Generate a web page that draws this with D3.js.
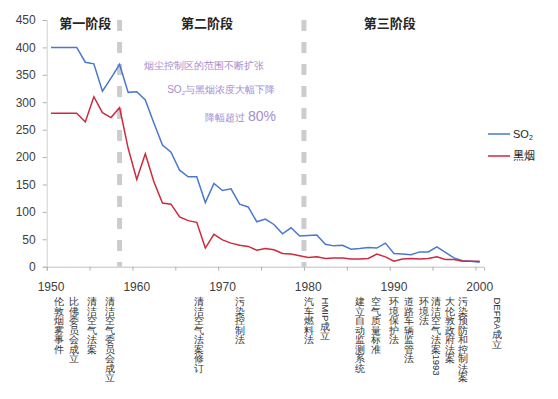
<!DOCTYPE html>
<html lang="zh">
<head>
<meta charset="utf-8">
<script src="https://d3js.org/d3.v7.min.js"></script>
<style>
  body { margin: 0; background: #fff; }
  text { font-family: "Liberation Sans", Arial, sans-serif; }
  .cjk { font-family: "Noto Sans CJK SC", sans-serif; }
</style>
</head>
<body>
<div id="chart"></div>
<script>
// years and the two series (ug/m3)
const years = d3.range(1950, 2001);
const so2 = [400, 400, 400, 400, 373, 370, 320, 344, 369, 318,
             319, 304, 262, 222, 209, 176, 164, 164, 117, 152,
             139, 142, 114, 109, 82, 87, 77, 60, 71, 56,
             57, 58, 41, 38, 39, 32, 33, 35, 34, 43,
             24, 23, 22, 27, 27, 36, 26, 16, 11, 10, 8];
const smoke = [280, 280, 280, 280, 264, 310, 281, 272, 290, 216,
               159, 206, 155, 116, 114, 91, 84, 81, 34, 59,
               49, 43, 39, 37, 30, 33, 31, 24, 23, 20,
               17, 18, 15, 16, 16, 14, 14, 15, 23, 18,
               10, 14, 15, 14, 15, 18, 13, 13, 10, 10, 10];
const yTicks = [0, 50, 100, 150, 200, 250, 300, 350, 400, 450];
const xLabels = [1950, 1960, 1970, 1980, 1990, 2000];

// phases
const phaseNames = ["第一阶段", "第二阶段", "第三阶段"];
const phaseCentres = [1954.0, 1968.2, 1989.5];
const phaseBreaks = [1958, 1979.5];

// events under the axis, anchored at (fractional) year columns
const events = ["伦敦烟雾事件", "比佛委员会成立", "清洁空气法案", "清洁空气委员会成立",
                "清洁空气法案修订", "污染控制法", "汽车燃料法", "HMIP成立",
                "建立自动监测系统", "空气质量标准", "环境保护法", "道路车辆监管法",
                "环境法", "清洁空气法案1993", "大伦敦政府法案", "污染预防和控制法案", "DEFRA成立"];
const eventYears = [1950.9, 1952.7, 1954.8, 1956.9, 1967.3, 1972.0, 1980.1, 1982.0,
                    1986.0, 1987.9, 1990.0, 1991.75, 1993.5, 1994.9, 1996.5, 1998.1, 2002.0];

const W = 558, H = 399;
const svg = d3.select("#chart").append("svg")
  .attr("width", W).attr("height", H);

const x = d3.scaleLinear().domain([1949.5, 2000.5]).range([46.7, 484]);
const y = d3.scaleLinear().domain([0, 450]).range([266.7, 20]);

// y axis
const yAxis = svg.append("g")
  .attr("transform", `translate(${x(1949.5)},0)`)
  .call(d3.axisLeft(y).tickValues(yTicks).tickSize(4).tickPadding(7));
yAxis.select(".domain").attr("stroke", "#d0d0d0");
yAxis.selectAll(".tick line").attr("stroke", "#b0b0b0");
yAxis.selectAll("text").attr("font-size", 12).attr("fill", "#404040")
  .attr("font-family", "Liberation Sans, Arial, sans-serif");

// x axis: ticks on category boundaries every 5 years
const xAxis = svg.append("g")
  .attr("transform", `translate(0,${y(0)})`)
  .call(d3.axisBottom(x).tickValues(d3.range(1949.5, 2001, 5)).tickSize(4).tickFormat(""));
xAxis.select(".domain").attr("stroke", "#c0c0c0");
xAxis.selectAll(".tick line").attr("stroke", "#b0b0b0");

svg.append("g").selectAll("text")
  .data(xLabels)
  .join("text")
  .attr("x", d => x(d))
  .attr("y", 291)
  .attr("text-anchor", "middle")
  .attr("font-size", 12)
  .attr("fill", "#404040")
  .text(d => d);

// phase separators
svg.append("g").selectAll("line")
  .data(phaseBreaks)
  .join("line")
  .attr("x1", d => x(d)).attr("x2", d => x(d))
  .attr("y1", y(450)).attr("y2", y(0))
  .attr("stroke", "#cccccc")
  .attr("stroke-width", 5)
  .attr("stroke-dasharray", "11,11");

// phase titles
svg.append("g").selectAll("text")
  .data(phaseNames)
  .join("text")
  .attr("class", "cjk")
  .attr("x", (d, i) => x(phaseCentres[i]))
  .attr("y", 28)
  .attr("text-anchor", "middle")
  .attr("font-size", 13)
  .attr("font-weight", "bold")
  .attr("fill", "#262626")
  .text(d => d);

// lines
const line = d3.line().x((d, i) => x(years[i])).y(d => y(d));
svg.append("path").datum(so2)
  .attr("d", line).attr("fill", "none")
  .attr("stroke", "#4a78cf").attr("stroke-width", 1.5);
svg.append("path").datum(smoke)
  .attr("d", line).attr("fill", "none")
  .attr("stroke", "#cc2a3e").attr("stroke-width", 1.5);

// purple annotation
const purple = "#a58ccf";
const note = svg.append("g").attr("class", "cjk").attr("fill", purple).attr("text-anchor", "end");
note.append("text").attr("x", 264).attr("y", 69).attr("font-size", 10)
  .text("烟尘控制区的范围不断扩张");
const n2 = note.append("text").attr("x", 275).attr("y", 93).attr("font-size", 10);
n2.append("tspan").text("SO");
n2.append("tspan").attr("font-size", 6).attr("dy", 2).text("2");
n2.append("tspan").attr("dy", -2).text("与黑烟浓度大幅下降");
const n3 = note.append("text").attr("x", 276).attr("y", 121).attr("font-size", 10);
n3.append("tspan").text("降幅超过 ");
n3.append("tspan").attr("font-size", 14).text("80%");

// legend
const legendNames = ["SO", "黑烟"];
const legendColors = ["#4a78cf", "#cc2a3e"];
const legend = svg.append("g").selectAll("g")
  .data(legendNames)
  .join("g")
  .attr("transform", (d, i) => `translate(488,${134 + i * 22})`);
legend.append("line").attr("x1", 0).attr("x2", 22)
  .attr("stroke", (d, i) => legendColors[i]).attr("stroke-width", 1.5);
const lt = legend.append("text").attr("x", 25).attr("y", 4)
  .attr("font-size", 11).attr("fill", "#262626")
  .attr("class", (d, i) => i ? "cjk" : null);
lt.append("tspan").text(d => d);
lt.filter((d, i) => i === 0).append("tspan")
  .attr("font-size", 7).attr("dy", 2).text("2");

// event annotations, stacked vertically: CJK upright, latin runs turned sideways
const fs = 9.5;
const evG = svg.append("g").attr("class", "cjk").attr("fill", "#333").attr("font-size", fs);
events.forEach((ev, i) => {
  const cx = x(eventYears[i]);
  let cy = 297;
  const runs = ev.match(/[A-Za-z0-9]+|./g);
  runs.forEach(r => {
    if (/^[A-Za-z0-9]+$/.test(r)) {
      const t = evG.append("text")
        .attr("font-family", "Liberation Sans, Arial, sans-serif")
        .attr("transform", `translate(${cx - 3.3},${cy + 0.5}) rotate(90)`)
        .text(r);
      cy += t.node().getComputedTextLength() + 1;
    } else {
      evG.append("text")
        .attr("x", cx).attr("y", cy + fs * 0.86)
        .attr("text-anchor", "middle")
        .text(r);
      cy += fs;
    }
  });
});
</script>
</body>
</html>
